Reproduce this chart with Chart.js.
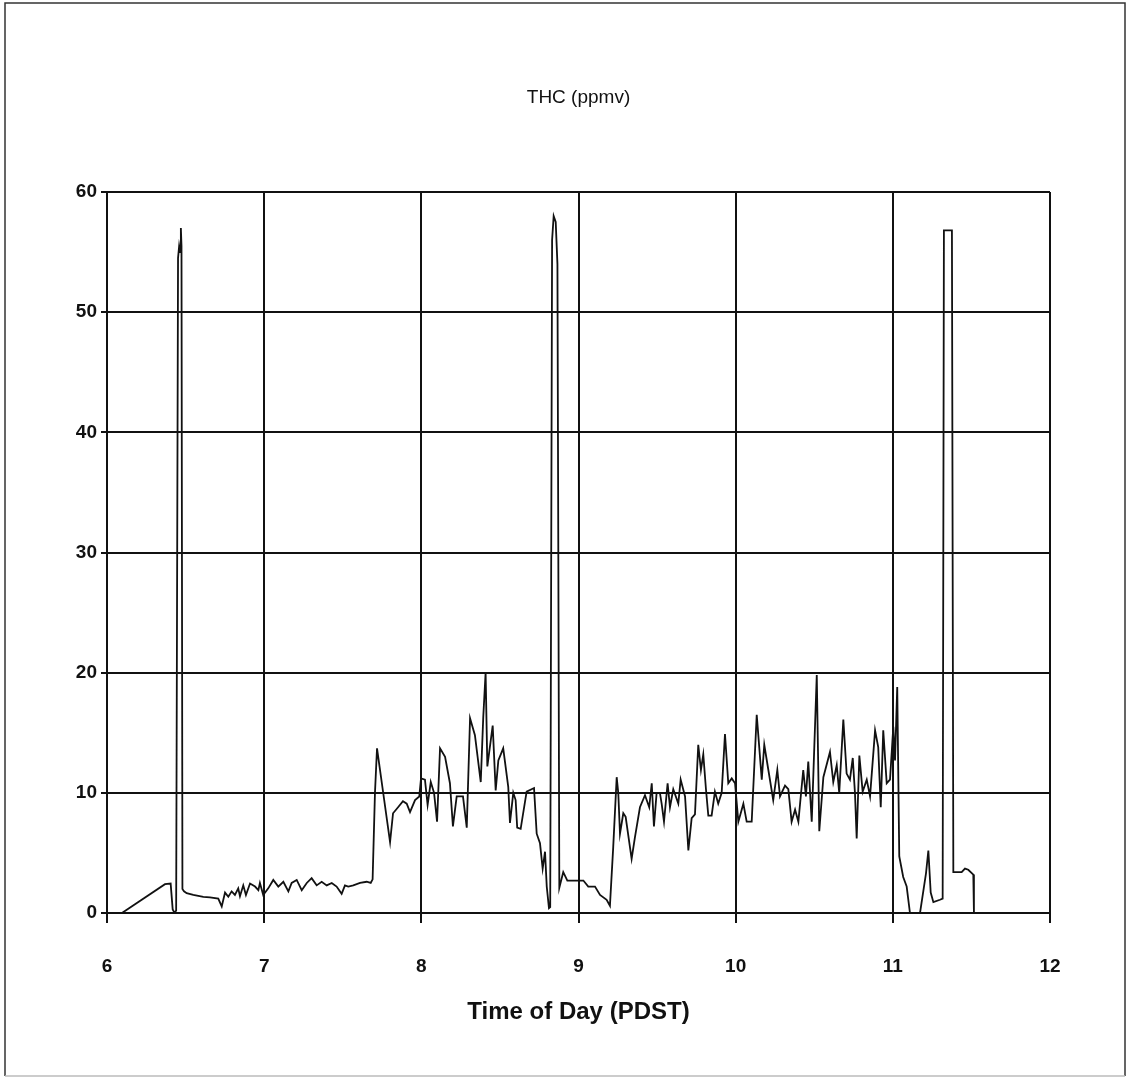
<!DOCTYPE html>
<html>
<head>
<meta charset="utf-8">
<script src="https://cdn.jsdelivr.net/npm/chart.js@4.4.1/dist/chart.umd.min.js"></script>
<style>
  html, body { margin: 0; padding: 0; background: #fff; }
  #wrap { width: 1127px; height: 1078px; position: relative; }
</style>
</head>
<body>
<div id="wrap"><canvas id="thc" width="1127" height="1078"></canvas></div>
<script>
// time of day (hours, PDST)
const times = [
  6.095, 6.369, 6.405, 6.418, 6.430, 6.440, 6.452, 6.459, 6.465, 6.470, 6.474, 6.480,
  6.49, 6.507, 6.549, 6.613, 6.655, 6.708, 6.730, 6.751, 6.772, 6.793, 6.814, 6.835,
  6.846, 6.867, 6.884, 6.910, 6.942, 6.963, 6.973, 6.994, 7.026, 7.058, 7.090, 7.122,
  7.154, 7.175, 7.207, 7.239, 7.271, 7.302, 7.334, 7.366, 7.398, 7.430, 7.461, 7.493,
  7.514, 7.535, 7.567, 7.610, 7.652, 7.678, 7.690, 7.705, 7.718, 7.801, 7.820, 7.852,
  7.883, 7.907, 7.928, 7.960, 7.987, 7.998, 8.023, 8.040, 8.060, 8.081, 8.100, 8.119,
  8.151, 8.182, 8.201, 8.225, 8.265, 8.289, 8.310, 8.341, 8.378, 8.394, 8.409, 8.420,
  8.454, 8.473, 8.490, 8.521, 8.553, 8.564, 8.585, 8.600, 8.610, 8.632, 8.670, 8.717,
  8.734, 8.755, 8.772, 8.787, 8.798, 8.812, 8.820, 8.832, 8.842, 8.855, 8.866, 8.878,
  8.903, 8.929, 8.988, 9.031, 9.062, 9.105, 9.137, 9.179, 9.200, 9.221, 9.243, 9.253,
  9.264, 9.285, 9.300, 9.338, 9.359, 9.391, 9.423, 9.450, 9.466, 9.480, 9.497, 9.518,
  9.529, 9.544, 9.567, 9.582, 9.603, 9.635, 9.650, 9.678, 9.699, 9.720, 9.741, 9.762,
  9.779, 9.794, 9.811, 9.826, 9.847, 9.868, 9.889, 9.911, 9.932, 9.953, 9.975, 9.996,
  10.017, 10.049, 10.070, 10.102, 10.134, 10.166, 10.182, 10.208, 10.239, 10.265, 10.282, 10.314,
  10.335, 10.356, 10.378, 10.399, 10.430, 10.447, 10.462, 10.484, 10.516, 10.532, 10.558, 10.600,
  10.621, 10.643, 10.659, 10.685, 10.706, 10.727, 10.745, 10.759, 10.770, 10.787, 10.808, 10.834,
  10.855, 10.887, 10.907, 10.923, 10.939, 10.961, 10.982, 11.003, 11.014, 11.028, 11.041, 11.066,
  11.088, 11.109, 11.173, 11.211, 11.226, 11.241, 11.258, 11.300, 11.317, 11.325, 11.376, 11.385,
  11.438, 11.459, 11.480, 11.512, 11.516
];

// THC (ppmv)
const thc = [
  0, 2.4, 2.45, 0.3, 0, 0.2, 54.5, 55.5, 55, 57, 55.5, 2.0,
  1.8, 1.65, 1.5, 1.35, 1.3, 1.2, 0.55, 1.7, 1.35, 1.8, 1.5, 2.05,
  1.4, 2.3, 1.5, 2.45, 2.2, 1.9, 2.5, 1.5, 2.05, 2.75, 2.2, 2.6,
  1.8, 2.5, 2.75, 1.9, 2.5, 2.9, 2.3, 2.6, 2.3, 2.5, 2.2, 1.6,
  2.3, 2.2, 2.3, 2.5, 2.6, 2.5, 2.8, 10, 13.7, 5.9, 8.3, 8.8,
  9.3, 9.1, 8.4, 9.4, 9.7, 11.2, 11.1, 9.0, 10.9, 10.0, 7.6, 13.7,
  13.0, 10.8, 7.2, 9.7, 9.7, 7.1, 16.2, 14.8, 10.9, 16.3, 20.0, 12.2,
  15.6, 10.2, 12.7, 13.7, 10.5, 7.5, 10.0, 9.4, 7.1, 7.0, 10.1, 10.4,
  6.6, 5.8, 3.7, 5.1, 2.2, 0.4, 0.5, 56, 58, 57.5, 54, 2.1,
  3.4, 2.7, 2.7, 2.7, 2.2, 2.2, 1.5, 1.1, 0.6, 5.5, 11.3, 10.0,
  6.6, 8.3, 8.0, 4.5, 6.3, 8.8, 9.8, 8.8, 10.8, 7.2, 10.0, 10.0,
  9.1, 7.6, 10.8, 8.8, 10.3, 9.1, 11.1, 9.7, 5.2, 7.9, 8.2, 14.0,
  11.9, 13.2, 10.3, 8.1, 8.1, 10.1, 9.1, 10.0, 14.9, 10.8, 11.2, 10.8,
  7.6, 9.1, 7.6, 7.6, 16.5, 11.1, 14.0, 11.9, 9.4, 11.9, 9.7, 10.6,
  10.3, 7.6, 8.6, 7.6, 11.9, 9.7, 12.6, 7.6, 19.8, 6.8, 11.3, 13.4,
  10.9, 12.3, 10.0, 16.1, 11.6, 11.1, 12.9, 10.0, 6.2, 13.1, 10.1, 11.1,
  9.7, 15.2, 13.8, 8.8, 15.2, 10.8, 11.1, 15.5, 12.7, 18.8, 4.7, 3.0,
  2.2, 0, 0, 3.3, 5.2, 1.7, 0.9, 1.1, 1.2, 56.8, 56.8, 3.4,
  3.4, 3.7, 3.6, 3.2, 0
];

const xTicks = [6, 7, 8, 9, 10, 11, 12];
const yTicks = [0, 10, 20, 30, 40, 50, 60];

const chartTitle = "THC (ppmv)";
const xTitle = "Time of Day (PDST)";

const points = times.map((t, i) => ({ x: t, y: thc[i] }));

// frame round the figure and the two titles
const decor = {
  id: 'decor',
  beforeDraw(chart) {
    const ctx = chart.ctx;
    ctx.save();
    ctx.fillStyle = '#fff';
    ctx.fillRect(0, 0, chart.width, chart.height);
    ctx.strokeStyle = '#333';
    ctx.lineWidth = 1.5;
    ctx.beginPath();
    ctx.moveTo(5, 1076); ctx.lineTo(5, 3); ctx.lineTo(1125, 3); ctx.lineTo(1125, 1076);
    ctx.stroke();
    ctx.strokeStyle = '#bbb';
    ctx.beginPath();
    ctx.moveTo(5, 1076); ctx.lineTo(1125, 1076);
    ctx.stroke();
    ctx.restore();
  },
  afterDraw(chart) {
    const ctx = chart.ctx;
    const a = chart.chartArea;
    const cx = (a.left + a.right) / 2;
    ctx.save();
    ctx.fillStyle = '#111';
    ctx.textAlign = 'center';
    ctx.textBaseline = 'middle';
    ctx.font = '19px "Liberation Sans", Arial, sans-serif';
    ctx.fillText(chartTitle, cx, 98);
    ctx.font = 'bold 24px "Liberation Sans", Arial, sans-serif';
    ctx.fillText(xTitle, cx, 1012);
    ctx.restore();
  }
};

new Chart(
  document.getElementById('thc'),
  {
    type: 'scatter',
    data: {
      datasets: [
        {
          label: 'THC',
          data: points,
          showLine: true,
          borderColor: '#111',
          borderWidth: 1.8,
          pointRadius: 0,
          tension: 0,
          fill: false
        }
      ]
    },
    options: {
      responsive: false,
      animation: false,
      devicePixelRatio: 1,
      layout: {
        padding: { left: 0, right: 77, top: 192, bottom: 0 }
      },
      scales: {
        x: {
          type: 'linear',
          min: 6,
          max: 12,
          afterFit: (scale) => { scale.height = 165; },
          afterBuildTicks: (scale) => { scale.ticks = xTicks.map(v => ({ value: v })); },
          ticks: {
            color: '#111',
            padding: 32,
            font: { family: '"Liberation Sans", Arial, sans-serif', size: 19, weight: 'bold' }
          },
          grid: { color: '#111', lineWidth: 2, tickLength: 10, tickColor: '#111' },
          border: { color: '#111', width: 2 }
        },
        y: {
          min: 0,
          max: 60,
          afterFit: (scale) => { scale.width = 107; },
          afterBuildTicks: (scale) => { scale.ticks = yTicks.map(v => ({ value: v })); },
          ticks: {
            color: '#111',
            padding: 4,
            font: { family: '"Liberation Sans", Arial, sans-serif', size: 19, weight: 'bold' }
          },
          grid: { color: '#111', lineWidth: 2, tickLength: 6, tickColor: '#111' },
          border: { color: '#111', width: 2 }
        }
      },
      plugins: {
        legend: { display: false },
        title: { display: false },
        tooltip: { enabled: false }
      }
    },
    plugins: [decor]
  }
);
</script>
</body>
</html>
